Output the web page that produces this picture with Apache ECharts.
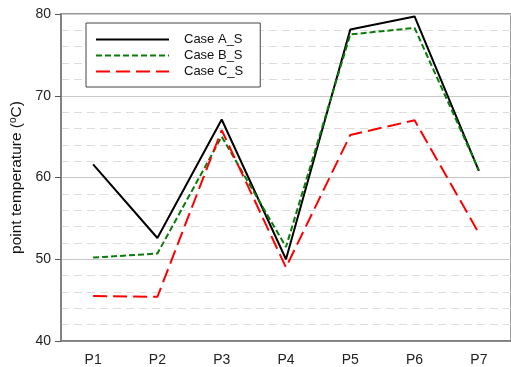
<!DOCTYPE html>
<html><head><meta charset="utf-8">
<script src="https://cdn.jsdelivr.net/npm/echarts@6/dist/echarts.min.js"></script>
<style>html,body{margin:0;padding:0;background:#fff}#c{width:511px;height:367px}</style>
</head><body><div id="c"></div>
<script>
const categories = ['P1','P2','P3','P4','P5','P6','P7'];
const caseA = [61.6, 52.6, 67.1, 50.0, 78.1, 79.7, 60.8];
const caseB = [50.2, 50.7, 65.0, 51.5, 77.5, 78.3, 60.9];
const caseC = [45.5, 45.4, 65.8, 49.0, 65.2, 67.0, 53.2];
const seriesNames = ['Case A_S','Case B_S','Case C_S'];
const yTicks = {min: 40, max: 80, interval: 10};

const chart = echarts.init(document.getElementById('c'), null, {renderer:'canvas'});
const font = 'Liberation Sans, Arial, sans-serif';
function mk(name, data, color, type) {
  return {name, type:'line', data, symbol:'none', animation:false,
    lineStyle:{color, width:2, type}, itemStyle:{color}};
}
chart.setOption({
  animation:false,
  grid:{left:59, top:14, bottom:26, width:455, show:true, borderColor:'#7a7a7a', borderWidth:1.5},
  legend:{orient:'vertical', left:86, top:23, padding:[10,17,9,9],
    backgroundColor:'#fff', borderColor:'#444', borderWidth:1,
    itemWidth:73, itemHeight:14, itemGap:3,
    itemStyle:{color:'transparent', borderWidth:0, opacity:0},
    textStyle:{fontFamily:font, fontSize:13, color:'#111', padding:[0,0,0,10]},
    data:seriesNames},
  xAxis:{type:'category', data:categories, boundaryGap:true,
    axisLine:{lineStyle:{color:'#7a7a7a', width:1.5}},
    axisTick:{alignWithLabel:true, length:5, lineStyle:{color:'#555'}},
    axisLabel:{color:'#222', fontFamily:font, fontSize:14, margin:12},
    splitLine:{show:false}},
  yAxis:{type:'value', min:yTicks.min, max:yTicks.max, interval:yTicks.interval,
    axisLine:{show:true, lineStyle:{color:'#7a7a7a', width:1.5}},
    axisTick:{show:true, length:6, lineStyle:{color:'#555'}},
    axisLabel:{color:'#222', fontFamily:font, fontSize:14, margin:10},
    splitLine:{show:true, lineStyle:{color:'#c8c8c8', width:1}},
    minorTick:{show:false, splitNumber:5},
    minorSplitLine:{show:true, lineStyle:{color:'#dcdcdc', width:1, type:[8,5]}},
    name:'point temperature ({s|o}C)', nameLocation:'middle', nameGap:31, nameRotate:90,
    nameTextStyle:{fontFamily:font, fontSize:15.5, color:'#111',
      rich:{s:{fontSize:10, verticalAlign:'top', fontFamily:font, color:'#111', padding:[0,0,7,0]}}}},
  series:[
    mk(seriesNames[0], caseA, '#000000', 'solid'),
    mk(seriesNames[1], caseB, '#0a7a0a', [6,3]),
    mk(seriesNames[2], caseC, '#ff0000', [14,6])
  ]
});
</script></body></html>
